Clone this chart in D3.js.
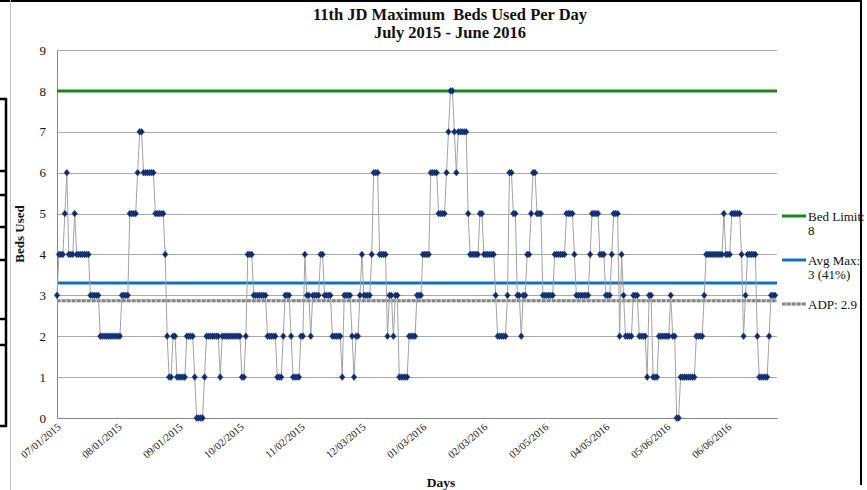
<!DOCTYPE html>
<html><head><meta charset="utf-8">
<script src="https://cdn.jsdelivr.net/npm/d3@7"></script>
<style>
html,body{margin:0;padding:0;background:#fff;}
svg{display:block;}
text{font-family:"Liberation Serif","Times New Roman",serif;fill:#111;}
</style></head><body>
<svg id="chart" width="867" height="490"></svg>
<script>
// ---- data ----
const startDate = "07/01/2015";
const maxBeds = [
  3,4,4,4,5,6,4,4,4,5,4,4,4,4,4,4,4,3,3,3,3,3,2,2,2,2,2,2,2,2,2,
  2,2,3,3,3,3,5,5,5,5,6,7,7,6,6,6,6,6,6,5,5,5,5,5,4,2,1,1,2,2,1,
  1,1,1,1,2,2,2,2,1,0,0,0,0,1,2,2,2,2,2,2,2,1,2,2,2,2,2,2,2,2,2,
  2,1,1,2,4,4,4,3,3,3,3,3,3,3,2,2,2,2,2,1,1,1,2,3,3,3,2,1,1,1,1,
  2,2,4,3,3,2,3,3,3,3,4,4,3,3,3,3,2,2,2,2,2,1,3,3,3,3,2,1,2,2,3,
  4,3,3,3,3,4,6,6,6,4,4,4,4,2,3,3,2,3,3,1,1,1,1,1,2,2,2,2,3,3,3,
  4,4,4,4,6,6,6,6,5,5,5,5,6,7,8,8,7,6,7,7,7,7,7,5,4,4,4,4,4,5,5,
  4,4,4,4,4,4,3,2,2,2,2,2,3,6,6,5,5,3,3,2,3,3,4,4,5,6,6,5,5,5,3,
  3,3,3,3,3,4,4,4,4,4,4,5,5,5,5,4,3,3,3,3,3,3,3,4,5,5,5,5,4,4,4,
  3,3,3,4,5,5,5,2,4,3,2,2,2,2,3,3,3,2,2,2,2,1,3,3,1,1,1,2,2,2,2,
  2,2,3,2,2,0,0,1,1,1,1,1,1,1,1,2,2,2,2,3,4,4,4,4,4,4,4,4,4,5,4,
  4,4,5,5,5,5,5,4,2,3,4,4,4,4,4,2,1,1,1,1,1,2,3,3,3
];
const tickLabels = ["07/01/2015","08/01/2015","09/01/2015","10/02/2015","11/02/2015","12/03/2015",
  "01/03/2016","02/03/2016","03/05/2016","04/05/2016","05/06/2016","06/06/2016"];
const yTicks = [0,1,2,3,4,5,6,7,8,9];
const refNames = ["bed","avg","adp"];
const refValues = [8, 3.3, 2.87];
const legendLines = [["Bed Limit:","8"],["Avg Max:","3 (41%)"],["ADP: 2.9"]];
const titleLines = ["11th JD Maximum  Beds Used Per Day","July 2015 - June 2016"];

// ---- drawing ----
const svg = d3.select("#chart");
const parse = d3.utcParse("%m/%d/%Y");
const start = parse(startDate);
const dates = maxBeds.map((v,i)=>d3.utcDay.offset(start,i));
const tickDates = tickLabels.map(parse);

const L=57, R=777, T=50, B=418;
const x = d3.scaleUtc().domain([start, d3.utcDay.offset(start, maxBeds.length)]).range([L,R]);
const y = d3.scaleLinear().domain([0,9]).range([B,T]);

// outer frame bits
svg.append("line").attr("x1",0).attr("x2",862).attr("y1",1).attr("y2",1).attr("stroke","#000").attr("stroke-width",2);
svg.append("line").attr("x1",861).attr("x2",861).attr("y1",0).attr("y2",485).attr("stroke","#000").attr("stroke-width",2);
svg.append("line").attr("x1",10.5).attr("x2",10.5).attr("y1",0).attr("y2",490).attr("stroke","#c0c0c0").attr("stroke-width",1);
svg.append("line").attr("x1",6).attr("x2",6).attr("y1",98).attr("y2",427).attr("stroke","#000").attr("stroke-width",2.5);
[99,171,195,227,260,319,345,426].forEach(v=>{
  svg.append("line").attr("x1",0).attr("x2",7).attr("y1",v).attr("y2",v).attr("stroke","#000").attr("stroke-width",2.5);
});

// gridlines
svg.append("g").selectAll("line").data(yTicks.filter(d=>d>0)).join("line")
  .attr("x1",L).attr("x2",R).attr("y1",d=>Math.round(y(d))+0.5).attr("y2",d=>Math.round(y(d))+0.5)
  .attr("stroke","#a9a9a9").attr("stroke-width",1);

// axes
const yAxis = svg.append("g").attr("transform",`translate(${L},0)`)
  .call(d3.axisLeft(y).tickValues(yTicks).tickSize(0).tickPadding(11).tickFormat(d3.format("d")));
yAxis.select(".domain").attr("stroke","#868686");
yAxis.selectAll("text").style("font-family","Liberation Serif").style("font-size","13px").attr("fill","#222");

const xAxis = svg.append("g").attr("transform",`translate(0,${B})`)
  .call(d3.axisBottom(x).tickValues(tickDates).tickSize(0).tickFormat((d,i)=>tickLabels[i]));
xAxis.select(".domain").attr("stroke","#868686");
xAxis.selectAll("text").style("font-family","Liberation Serif").style("font-size","10.5px").attr("fill","#222")
  .attr("x",0).attr("y",0).attr("dy",0).attr("text-anchor","end")
  .attr("transform","translate(4,10) rotate(-40)");

// reference lines
const refColors = {bed:"#168a16", avg:"#0e72c4", adp:"#c4c4c4"};
refNames.forEach((n,i)=>{
  svg.append("line").attr("x1",L).attr("x2",R).attr("y1",y(refValues[i])).attr("y2",y(refValues[i]))
    .attr("stroke",refColors[n]).attr("stroke-width",3);
  if(n==="adp"){
    svg.append("line").attr("x1",L).attr("x2",R).attr("y1",y(refValues[i])).attr("y2",y(refValues[i]))
      .attr("stroke","#868686").attr("stroke-width",3).attr("stroke-dasharray","3.5,1.5");
  }
});

// data line + markers
svg.append("path").datum(maxBeds)
  .attr("d", d3.line().x((d,i)=>x(dates[i])).y(d=>y(d)))
  .attr("fill","none").attr("stroke","#a3a3a3").attr("stroke-width",1);
svg.append("g").selectAll("path").data(maxBeds).join("path")
  .attr("transform",(d,i)=>`translate(${x(dates[i])},${y(d)})`)
  .attr("d","M0,-3.4L2.8,0L0,3.4L-2.8,0Z")
  .attr("fill","#10296a").attr("stroke","#2b4c8c").attr("stroke-width",0.5);

// titles
svg.append("text").attr("x",450).attr("y",20).attr("text-anchor","middle").style("white-space","pre")
  .style("font-size","16.5px").style("font-weight","bold").text(titleLines[0]);
svg.append("text").attr("x",450).attr("y",38).attr("text-anchor","middle")
  .style("font-size","16.5px").style("font-weight","bold").text(titleLines[1]);
svg.append("text").attr("transform","translate(24,234) rotate(-90)").attr("text-anchor","middle")
  .style("font-size","13px").style("font-weight","bold").text("Beds Used");
svg.append("text").attr("x",441).attr("y",487).attr("text-anchor","middle")
  .style("font-size","13.5px").style("font-weight","bold").text("Days");

// legend
const legY = [216, 260, 304];
refNames.forEach((n,i)=>{
  const g = svg.append("g");
  g.append("line").attr("x1",782).attr("x2",806).attr("y1",legY[i]).attr("y2",legY[i])
    .attr("stroke",refColors[n]).attr("stroke-width",3);
  if(n==="adp") g.append("line").attr("x1",782).attr("x2",806).attr("y1",legY[i]).attr("y2",legY[i])
    .attr("stroke","#868686").attr("stroke-width",3).attr("stroke-dasharray","3.5,1.5");
  legendLines[i].forEach((t,j)=>{
    g.append("text").attr("x",808).attr("y",legY[i]+5+j*13.5)
      .style("font-size","13px").attr("fill","#111").text(t);
  });
});
</script>
</body></html>
